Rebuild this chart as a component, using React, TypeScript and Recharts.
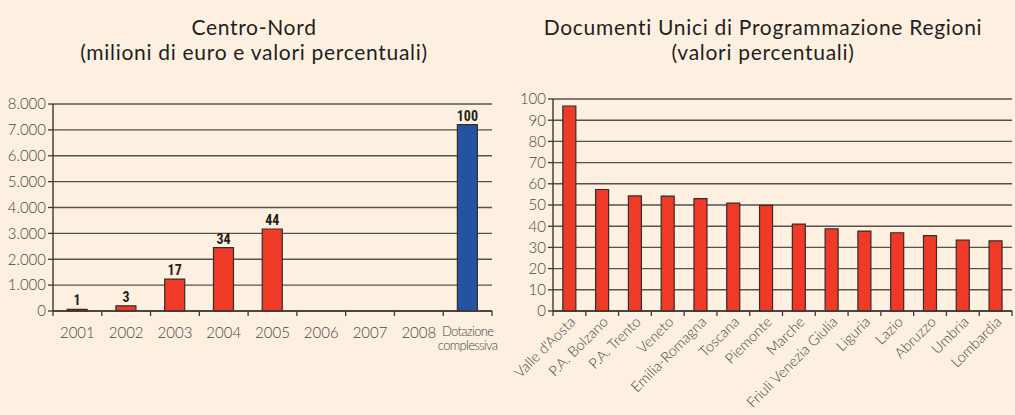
import React from 'react';
import { BarChart, Bar, XAxis, YAxis, CartesianGrid, Cell, LabelList } from 'recharts';

// ---- Left chart data: Centro-Nord (milioni di euro e valori percentuali)
const leftCategories = ['2001', '2002', '2003', '2004', '2005', '2006', '2007', '2008', 'Dotazione complessiva'];
const leftValues: (number | null)[] = [60, 200, 1230, 2450, 3170, null, null, null, 7200];
const leftPercent: (number | null)[] = [1, 3, 17, 34, 44, null, null, null, 100];
const leftTicks = [0, 1000, 2000, 3000, 4000, 5000, 6000, 7000, 8000];

// ---- Right chart data: Documenti Unici di Programmazione Regioni (valori percentuali)
const rightCategories = [
  "Valle d'Aosta", 'P.A. Bolzano', 'P.A. Trento', 'Veneto', 'Emilia-Romagna', 'Toscana', 'Piemonte',
  'Marche', 'Friuli Venezia Giulia', 'Liguria', 'Lazio', 'Abruzzo', 'Umbria', 'Lombardia',
];
const rightValues = [96.7, 57.3, 54.3, 54.2, 53.0, 50.9, 49.8, 41.0, 38.8, 37.7, 36.9, 35.6, 33.4, 33.1];
const rightTicks = [0, 10, 20, 30, 40, 50, 60, 70, 80, 90, 100];

const leftData = leftCategories.map((c, i) => ({ cat: c, value: leftValues[i], pct: leftPercent[i] }));
const rightData = rightCategories.map((c, i) => ({ cat: c, value: rightValues[i] }));

const BG = '#FDF0E1';
const RED = '#EE3A27';
const BLUE = '#2553A1';
const GRID = '#58504C';
const AXIS = '#3E3634';
const TEXT = '#4A4444';
const FONT = 'Lato, "Noto Sans", sans-serif';
const NARROW = '"Liberation Sans Narrow", "Roboto Condensed", Roboto, sans-serif';

const fmtThousands = (v: number) => String(v).replace(/\B(?=(\d{3})+(?!\d))/g, '.');

const TICK_SIZE = 5;
const TICK_MARGIN = 3;

const LeftXTick = (props: any) => {
  const { x, y, payload, index, visibleTicksCount } = props;
  const axisY = y - TICK_SIZE - TICK_MARGIN;
  const off = payload.offset || 0;
  const isLast = index === visibleTicksCount - 1;
  const label: string = payload.value;
  const multi = label === 'Dotazione complessiva';
  return (
    <g>
      <line x1={x - off} x2={x - off} y1={axisY} y2={axisY + 5} stroke={AXIS} strokeWidth={1.3} />
      {isLast && <line x1={x + off} x2={x + off} y1={axisY} y2={axisY + 5} stroke={AXIS} strokeWidth={1.3} />}
      {multi ? (
        <text x={x} y={axisY} textAnchor="middle" fill={TEXT} fontFamily={FONT} fontWeight={300} fontSize={13} letterSpacing={-0.7}>
          <tspan x={x} dy={25}>Dotazione</tspan>
          <tspan x={x} dy={14}>complessiva</tspan>
        </text>
      ) : (
        <text x={x} y={axisY + 27} textAnchor="middle" fill={TEXT} fontFamily={FONT} fontWeight={300} fontSize={15}>
          {label}
        </text>
      )}
    </g>
  );
};

const RightXTick = (props: any) => {
  const { x, y, payload, index, visibleTicksCount } = props;
  const axisY = y - TICK_SIZE - TICK_MARGIN;
  const off = payload.offset || 0;
  const isLast = index === visibleTicksCount - 1;
  return (
    <g>
      <line x1={x - off} x2={x - off} y1={axisY} y2={axisY + 5} stroke={AXIS} strokeWidth={1.3} />
      {isLast && <line x1={x + off} x2={x + off} y1={axisY} y2={axisY + 5} stroke={AXIS} strokeWidth={1.3} />}
      <g transform={`translate(${x + 4},${axisY + 9})`}>
        <text transform="rotate(-45)" textAnchor="end" dy={4} fill={TEXT} fontFamily={FONT} fontWeight={300} fontSize={14.5}>
          {payload.value}
        </text>
      </g>
    </g>
  );
};

const titleStyle: React.CSSProperties = {
  position: 'absolute',
  textAlign: 'center',
  fontFamily: FONT,
  fontSize: 21,
  letterSpacing: 0.7,
  lineHeight: '25px',
  color: '#231F1E',
  whiteSpace: 'nowrap',
};

export default function App() {
  return (
    <div style={{ position: 'absolute', left: 0, top: 0, width: 1015, height: 415, background: BG, overflow: 'hidden' }}>
      <div style={{ ...titleStyle, left: 54, width: 400, top: 14 }}>
        Centro-Nord
        <br />
        (milioni di euro e valori percentuali)
      </div>
      <div style={{ ...titleStyle, left: 513, width: 500, top: 14 }}>
        Documenti Unici di Programmazione Regioni
        <br />
        (valori percentuali)
      </div>

      <div style={{ position: 'absolute', left: 0, top: 0 }}>
        <BarChart width={500} height={415} data={leftData} margin={{ top: 104, right: 8, left: 0, bottom: 44 }} barCategoryGap="29%">
          <CartesianGrid vertical={false} stroke={GRID} strokeWidth={1.4} />
          <XAxis
            dataKey="cat"
            height={60}
            interval={0}
            tickLine={false}
            tickSize={TICK_SIZE}
            tickMargin={TICK_MARGIN}
            axisLine={{ stroke: AXIS, strokeWidth: 1.4 }}
            tick={<LeftXTick />}
          />
          <YAxis
            width={53}
            domain={[0, 8000]}
            ticks={leftTicks}
            interval={0}
            tickFormatter={fmtThousands}
            tickSize={5}
            tickMargin={2}
            axisLine={{ stroke: AXIS, strokeWidth: 1.4 }}
            tickLine={{ stroke: AXIS, strokeWidth: 1.3 }}
            tick={{ fill: TEXT, fontFamily: FONT, fontWeight: 300, fontSize: 15 }}
          />
          <YAxis yAxisId="border" orientation="right" width={0} domain={[0, 8000]} tick={false} tickLine={false} axisLine={{ stroke: GRID, strokeWidth: 1.4 }} />
          <Bar dataKey="value" isAnimationActive={false} stroke="#3A2A28" strokeWidth={1.2}>
            {leftData.map((d, i) => (
              <Cell key={i} fill={d.cat === 'Dotazione complessiva' ? BLUE : RED} />
            ))}
            <LabelList dataKey="pct" position="top" offset={4} fill="#231F1E" fontFamily={NARROW} fontWeight={700} fontSize={14} />
          </Bar>
        </BarChart>
      </div>

      <div style={{ position: 'absolute', left: 500, top: 0 }}>
        <BarChart width={515} height={415} data={rightData} margin={{ top: 99, right: 3, left: 0, bottom: 44 }} barCategoryGap="30%">
          <CartesianGrid vertical={false} stroke={GRID} strokeWidth={1.4} />
          <XAxis
            dataKey="cat"
            height={60}
            interval={0}
            tickLine={false}
            tickSize={TICK_SIZE}
            tickMargin={TICK_MARGIN}
            axisLine={{ stroke: AXIS, strokeWidth: 1.4 }}
            tick={<RightXTick />}
          />
          <YAxis
            width={53}
            domain={[0, 100]}
            ticks={rightTicks}
            interval={0}
            tickSize={5}
            tickMargin={2}
            axisLine={{ stroke: AXIS, strokeWidth: 1.4 }}
            tickLine={{ stroke: AXIS, strokeWidth: 1.3 }}
            tick={{ fill: TEXT, fontFamily: FONT, fontWeight: 300, fontSize: 15 }}
          />
          <YAxis yAxisId="border" orientation="right" width={0} domain={[0, 100]} tick={false} tickLine={false} axisLine={{ stroke: GRID, strokeWidth: 1.4 }} />
          <Bar dataKey="value" isAnimationActive={false} fill={RED} stroke="#3A2A28" strokeWidth={1.2} />
        </BarChart>
      </div>
    </div>
  );
}
